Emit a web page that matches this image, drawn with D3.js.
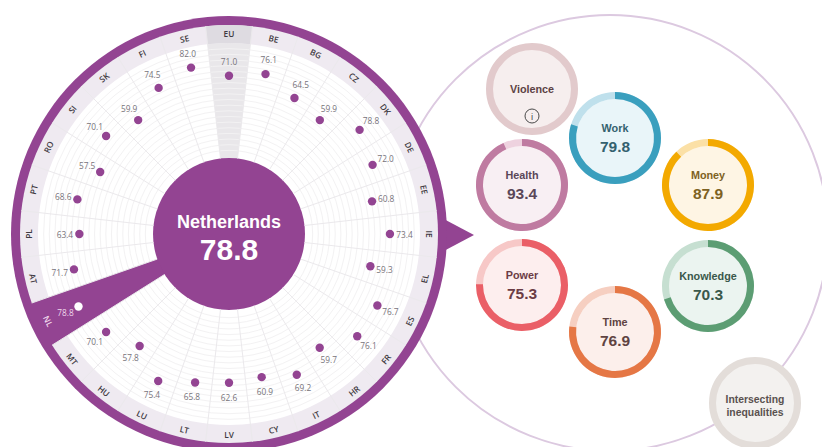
<!DOCTYPE html>
<html><head><meta charset="utf-8">
<style>html,body{margin:0;padding:0;background:#fff;overflow:hidden}svg{display:block}text{text-anchor:middle;dominant-baseline:central}</style>
<script src="https://cdn.jsdelivr.net/npm/d3@7"></script></head>
<body><svg id="c" width="822" height="447"></svg>
<script>
const countries=["EU","BE","BG","CZ","DK","DE","EE","IE","EL","ES","FR","HR","IT","CY","LV","LT","LU","HU","MT","NL","AT","PL","PT","RO","SI","SK","FI","SE"];
const scores=[71.0,76.1,64.5,59.9,78.8,72.0,60.8,73.4,59.3,76.7,76.1,59.7,69.2,60.9,62.6,65.8,75.4,57.8,70.1,78.8,71.7,63.4,68.6,57.5,70.1,59.9,74.5,82.0];
const selected="NL", selectedName="Netherlands", selectedScore=78.8;
const domains=["Work","Money","Knowledge","Time","Power","Health"];
const domainScores=[79.8,87.9,70.3,76.9,75.3,93.4];

const F="'Open Sans',sans-serif", H="'Liberation Sans',Arial,sans-serif";
const PURPLE="#934492";
const cx=229,cy=234,R0=76,R1=191,R2=209,R3=218;
const svg=d3.select("#c");
const r=d3.scaleLinear().domain([0,100]).range([78,R1]);
const a=d3.scaleBand().domain(countries).range([0,2*Math.PI]);
const step=a.bandwidth();
const angle=c=>a(c);            // segment centre: EU sits at twelve o'clock
const pt=(ang,rad)=>[cx+rad*Math.sin(ang),cy-rad*Math.cos(ang)];
const arc=d3.arc();

// right-hand domain circle
svg.append("circle").attr("cx",610).attr("cy",233).attr("r",218).attr("fill","none").attr("stroke","#dcc9e0").attr("stroke-width",2);
// pointer
svg.append("path").attr("d",d3.line()([[440,217],[474,235],[440,253]])).attr("fill",PURPLE);

const g=svg.append("g").attr("transform",`translate(${cx},${cy})`);
g.append("circle").attr("r",R3).attr("fill",PURPLE);
g.append("circle").attr("r",R2).attr("fill","#efeaf1");
g.append("circle").attr("r",R1).attr("fill","#fff");

// EU wedge
const seg=(c,i,o)=>arc({innerRadius:i,outerRadius:o,startAngle:angle(c)-step/2,endAngle:angle(c)+step/2});
g.append("path").attr("d",seg("EU",R0,R1)).attr("fill","#e9e7ea");
g.append("path").attr("d",seg("EU",R1,R2)).attr("fill","#dedbe1");

// grid
g.selectAll("circle.grid").data(d3.range(5,100,5)).join("circle").attr("class","grid")
 .attr("r",d=>r(d)).attr("fill","none").attr("stroke","#f3f2f3").attr("stroke-width",1);
svg.selectAll("line.spoke").data(countries).join("line").attr("class","spoke")
 .attr("x1",d=>pt(angle(d)-step/2,R0)[0]).attr("y1",d=>pt(angle(d)-step/2,R0)[1])
 .attr("x2",d=>pt(angle(d)-step/2,R2)[0]).attr("y2",d=>pt(angle(d)-step/2,R2)[1])
 .attr("stroke","#ebe9ec").attr("stroke-width",1);

// highlighted wedge
g.append("path").attr("d",seg(selected,R0-4,R3-2)).attr("fill",PURPLE);

// centre
g.append("circle").attr("r",R0).attr("fill",PURPLE);
svg.append("text").attr("x",cx).attr("y",222).attr("fill","#fff").attr("font-family",H).attr("font-weight",700).attr("font-size",18).text(selectedName);
svg.append("text").attr("x",cx).attr("y",249).attr("fill","#fff").attr("font-family",H).attr("font-weight",700).attr("font-size",30).text(selectedScore.toFixed(1));

// country codes
const rot=c=>{const d=angle(c)*180/Math.PI;return d<=90?d:(d<270?d-180:d-360);};
svg.selectAll("text.code").data(countries).join("text").attr("class","code")
 .attr("transform",d=>{const p=pt(angle(d),(R1+R2)/2+0.5);return `translate(${p[0]},${p[1]}) rotate(${rot(d)})`;})
 .attr("font-family",F).attr("font-size",8.3).attr("font-weight",600)
 .attr("fill",d=>d===selected?"#f3dff0":"#3f3a42").text(d=>d);

// dots & values
const rows=countries.map((c,i)=>({c,v:scores[i]}));
svg.selectAll("circle.dot").data(rows).join("circle").attr("class","dot")
 .attr("cx",d=>pt(angle(d.c),r(d.v))[0]).attr("cy",d=>pt(angle(d.c),r(d.v))[1]).attr("r",4.2)
 .attr("fill",d=>d.c===selected?"#fff":PURPLE);
svg.selectAll("text.val").data(rows).join("text").attr("class","val")
 .attr("x",d=>pt(angle(d.c),r(d.v)+14.5)[0]).attr("y",d=>pt(angle(d.c),r(d.v)+14.5)[1])
 .attr("font-family",F).attr("font-size",8.3)
 .attr("fill",d=>d.c===selected?"#f0d8ec":"#77737a").text(d=>d.v.toFixed(1));

// domain badges
const centres={Work:[615,138],Money:[708,185],Knowledge:[708,286],Time:[615,332],Power:[522,285],Health:[522,185]};
const pal={Work:["#3a9fbe","#bfe0ec","#e9f5f9","#34616f"],Money:["#f3a900","#fbe0a6","#fef5e4","#7d6122"],Knowledge:["#5c9d73","#c6dfd1","#ebf4f0","#3a584b"],Time:["#e57745","#f6cfc1","#fcefeb","#5f4342"],Power:["#ea5f67","#f7c8c7","#fdeeee","#6b3c45"],Health:["#bf7ba1","#eed2df","#f8eff3","#5a4759"]};
const RO=46,RI=39;
const badges=svg.selectAll("g.b").data(domains.map((n,i)=>({n,v:domainScores[i]}))).join("g").attr("class","b")
 .attr("transform",d=>`translate(${centres[d.n]})`);
badges.append("circle").attr("r",RI).attr("fill",d=>pal[d.n][2]);
badges.append("path").attr("fill",d=>pal[d.n][1]).attr("d",d=>arc({innerRadius:RI,outerRadius:RO,startAngle:0,endAngle:2*Math.PI}));
badges.append("path").attr("fill",d=>pal[d.n][0]).attr("d",d=>arc({innerRadius:RI,outerRadius:RO,startAngle:0,endAngle:d.v/100*2*Math.PI}));
badges.append("text").attr("y",-10).attr("font-family",H).attr("font-weight",700).attr("font-size",10.8).attr("fill",d=>pal[d.n][3]).text(d=>d.n);
badges.append("text").attr("y",8.5).attr("font-family",H).attr("font-weight",700).attr("font-size",15.5).attr("fill",d=>pal[d.n][3]).text(d=>d.v.toFixed(1));

// Violence (no score)
const vio=svg.append("g").attr("transform","translate(532,89)");
vio.append("circle").attr("r",42.5).attr("fill","#f6eeee").attr("stroke","#e2cacc").attr("stroke-width",7);
vio.append("text").attr("y",0).attr("font-family",H).attr("font-weight",700).attr("font-size",10.8).attr("fill","#5c4244").text("Violence");
vio.append("circle").attr("cy",27).attr("r",7).attr("fill","none").attr("stroke","#4a4a4a").attr("stroke-width",1);
vio.append("text").attr("y",27).attr("font-family",H).attr("font-size",9.5).attr("fill","#4a4a4a").text("i");

// Intersecting inequalities
const ine=svg.append("g").attr("transform","translate(755,403)");
ine.append("circle").attr("r",42.5).attr("fill","#f3f1ef").attr("stroke","#e3ddd9").attr("stroke-width",7);
ine.append("text").attr("y",-3.7).attr("font-family",H).attr("font-weight",700).attr("font-size",10.4).attr("fill","#5a5150").text("Intersecting");
ine.append("text").attr("y",9.7).attr("font-family",H).attr("font-weight",700).attr("font-size",10.4).attr("fill","#5a5150").text("inequalities");
</script></body></html>
